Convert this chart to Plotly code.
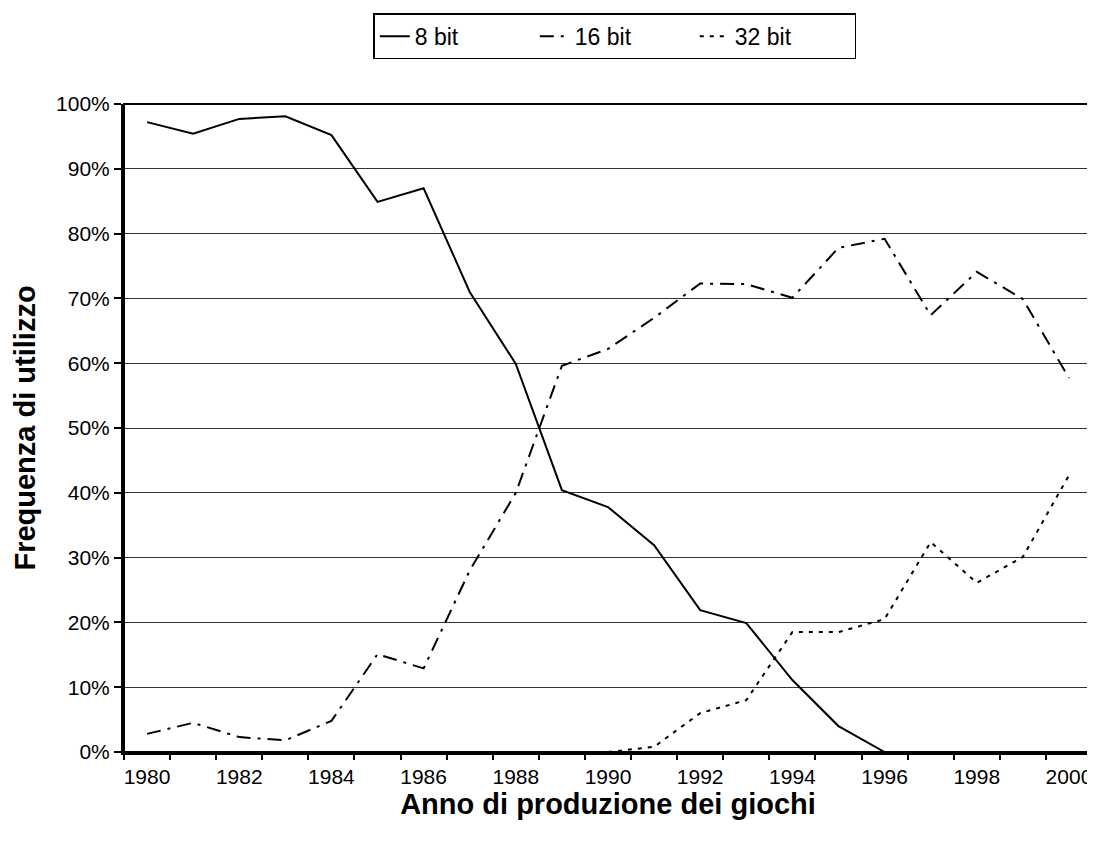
import plotly.graph_objects as go

years = list(range(1980, 2001))
bit8 = [97.2, 95.4, 97.7, 98.1, 95.2, 84.9, 87.0, 71.0, 59.9, 40.4, 37.8, 31.9,
        21.9, 19.9, 11.1, 4.0, 0, 0, 0, 0, 0]
bit16 = [2.8, 4.5, 2.3, 1.8, 4.8, 15.1, 12.9, 28.0, 40.0, 59.6, 62.2, 67.0,
         72.3, 72.2, 70.1, 77.8, 79.2, 67.4, 74.1, 69.9, 57.7]
bit32 = [None, None, None, None, None, None, None, None, None, None, 0, 0.8,
         6.0, 8.0, 18.5, 18.5, 20.5, 32.4, 26.1, 30.1, 42.7]
y_ticks = [0, 10, 20, 30, 40, 50, 60, 70, 80, 90, 100]
x_labels = list(range(1980, 2001, 2))

FONT = "Arial, Liberation Sans, sans-serif"

fig = go.Figure()
fig.add_trace(go.Scatter(x=years, y=bit8, name="8 bit", mode="lines",
                         line=dict(color="black", width=2)))
fig.add_trace(go.Scatter(x=years, y=bit16, name="16 bit", mode="lines",
                         line=dict(color="black", width=2, dash="14px,7px,3px,7px")))
fig.add_trace(go.Scatter(x=years, y=bit32, name="32 bit", mode="lines",
                         line=dict(color="black", width=2, dash="4px,6px")))
# invisible trace for secondary x axis (tick marks between categories)
fig.add_trace(go.Scatter(x=[1979.5], y=[None], xaxis="x2", showlegend=False,
                         hoverinfo="skip"))

fig.update_layout(
    width=1087, height=834,
    paper_bgcolor="white", plot_bgcolor="white",
    margin=dict(l=116, r=3, t=96, b=90, autoexpand=False),
    font=dict(family=FONT, size=20, color="black"),
    showlegend=True,
    legend=dict(orientation="h", x=0.507, xanchor="center", y=1.14, yanchor="top",
                bordercolor="black", borderwidth=1.5, font=dict(size=23),
                entrywidth=115, entrywidthmode="pixels", tracegroupgap=0),
    xaxis=dict(range=[1979.5, 2000.5], tickmode="array", tickvals=x_labels,
               ticktext=[str(v) for v in x_labels], ticks="", showgrid=False,
               showline=True, linecolor="black", linewidth=3, zeroline=False,
               automargin=False, tickfont=dict(size=21), ticklabelstandoff=4,
               title=dict(text="<b>Anno di produzione dei giochi</b>",
                          font=dict(size=29), standoff=0)),
    xaxis2=dict(range=[1979.5, 2000.5], overlaying="x", side="bottom",
                tickmode="array", tickvals=[y - 0.5 for y in range(1980, 2002)],
                showticklabels=False, ticks="outside", ticklen=7, tickwidth=2,
                tickcolor="black", showgrid=False, showline=False, zeroline=False,
                anchor="y", automargin=False),
    yaxis=dict(range=[0, 100], tickmode="array", tickvals=y_ticks,
               ticktext=[f"{v}%" for v in y_ticks], ticks="outside", ticklen=7,
               tickwidth=2, tickcolor="black", showgrid=True, gridcolor="#333333",
               gridwidth=1, showline=True, linecolor="black", linewidth=3,
               zeroline=False, automargin=False, tickfont=dict(size=21),
               title=dict(text="<b>Frequenza di utilizzo</b>",
                          font=dict(size=29), standoff=12)),
    shapes=[dict(type="rect", xref="paper", yref="paper", x0=0, x1=1, y0=0, y1=1,
                 line=dict(color="black", width=2), layer="above")],
)

fig.write_html("out.html")
